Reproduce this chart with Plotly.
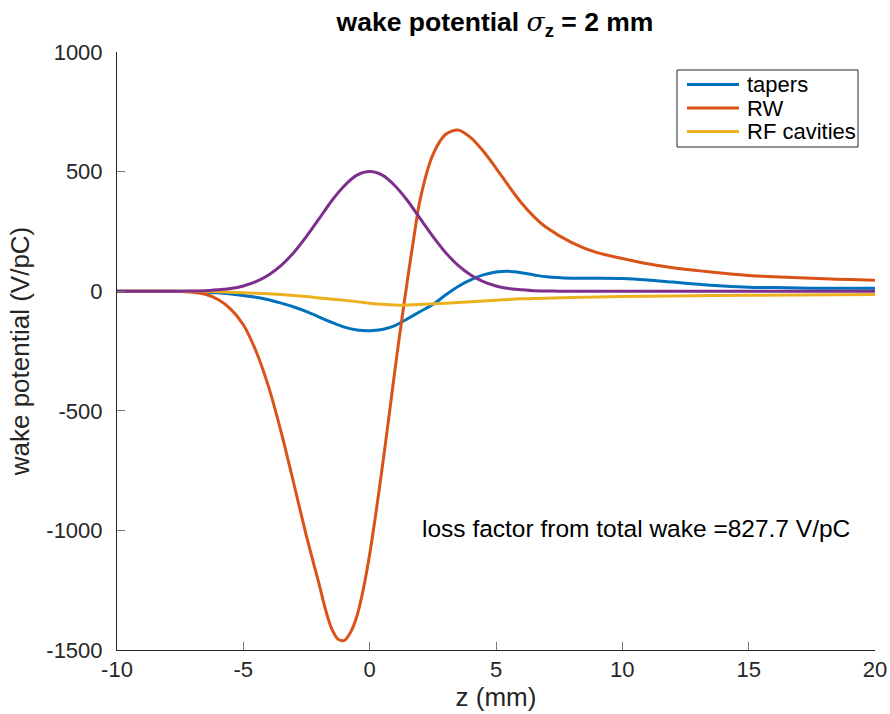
import plotly.graph_objects as go

# ---- data ----
z_tapers = [-10, -8, -7, -6.5, -6, -5.5, -5, -4.5, -4, -3.5, -3, -2.5, -2, -1.5, -1, -0.5, 0, 0.5, 1, 1.5,
            2, 2.5, 3, 3.5, 4, 4.5, 5, 5.5, 6, 6.5, 7, 8, 9, 10, 11, 12, 13, 14, 15, 16, 17, 18, 19, 20]
w_tapers = [0, 0, -2, -4, -7, -12, -18, -25, -36, -50, -66, -85, -108, -130, -150, -162, -165, -160, -144, -115,
            -85, -56, -16, 20, 47, 68, 80, 83, 77, 68, 60, 54, 54, 53, 47, 38, 29, 22, 17, 15, 13, 12, 12, 12]

z_rw = [-10, -8, -7.5, -7, -6.5, -6, -5.5, -5, -4.5, -4, -3.5, -3, -2.5, -2, -1.75, -1.5, -1.25, -1, -0.75,
        -0.5, -0.25, 0, 0.25, 0.5, 0.75, 1, 1.25, 1.5, 1.75, 2, 2.5, 3, 3.5, 4, 4.5, 5, 5.5, 6, 6.5, 7, 8, 9,
        10, 11, 12, 13, 14, 15, 16, 17, 18, 19, 20]
w_rw = [0, 0, -1, -4, -13, -35, -75, -140, -250, -400, -590, -805, -1025, -1225, -1330, -1412, -1455, -1460, -1425,
        -1357, -1245, -1100, -925, -735, -535, -330, -135, 50, 225, 385, 570, 655, 674, 642, 585, 515, 440, 370, 312,
        266, 203, 161, 137, 115, 98, 86, 75, 66, 60, 56, 52, 49, 46]

z_rf = [-10, -7, -6.5, -6, -5, -4, -3, -2.5, -2, -1, 0, 0.5, 1, 1.5, 2, 3, 4, 5, 6, 8, 10, 12, 15, 20]
w_rf = [0, 0, -1, -2, -6, -11, -18, -22, -28, -38, -50, -55, -58, -58, -56, -50, -44, -38, -32, -26, -22, -20, -17, -14]

z_bunch = [-10, -8, -7.5, -7, -6.5, -6, -5.5, -5, -4.5, -4, -3.5, -3, -2.5, -2, -1.5, -1, -0.5, 0,
           0.5, 1, 1.5, 2, 2.5, 3, 3.5, 4, 4.5, 5, 5.5, 6, 6.5, 7, 7.5, 8, 10, 15, 20]
w_bunch = [0, 0, 0, 1, 2, 6, 11, 22, 40, 68, 108, 162, 229, 303, 378, 441, 485, 500,
           485, 441, 378, 303, 229, 162, 108, 68, 40, 22, 11, 6, 2, 1, 0, 0, 0, 0, 0]

series_names = ["tapers", "RW", "RF cavities"]
colors = ["#0072BD", "#D95319", "#EDB120", "#7E2F8E"]

x_ticks = [-10, -5, 0, 5, 10, 15, 20]
y_ticks = [-1500, -1000, -500, 0, 500, 1000]

FONT = "Liberation Sans, Arial, Helvetica, sans-serif"
AX = "#262626"
W, H = 890, 714
ML, MR, MT, MB = 117, 15, 52, 64
PW, PH = W - ML - MR, H - MT - MB


def px2paper(px, py):
    return (px - ML) / PW, (H - MB - py) / PH


fig = go.Figure()
for z, w, name, c in zip([z_tapers, z_rw, z_rf], [w_tapers, w_rw, w_rf], series_names, colors[:3]):
    fig.add_trace(go.Scatter(x=z, y=w, mode="lines", name=name, showlegend=False,
                             line=dict(color=c, width=3, shape="spline", smoothing=0.8)))
fig.add_trace(go.Scatter(x=z_bunch, y=w_bunch, mode="lines", showlegend=False,
                         line=dict(color=colors[3], width=3, shape="spline", smoothing=0.8)))

tx_title, _ = px2paper(495, 0)
fig.update_layout(
    width=W, height=H,
    margin=dict(l=ML, r=MR, t=MT, b=MB, autoexpand=False),
    paper_bgcolor="white", plot_bgcolor="white",
    font=dict(family=FONT, size=22, color=AX),
    title=dict(
        text="<b>wake potential <span style='font-family:DejaVu Serif;font-weight:normal'><i>σ</i></span><sub>z</sub> = 2 mm</b>",
        x=tx_title, xref="paper", xanchor="center", y=1 - 22 / H, yref="container", yanchor="middle",
        font=dict(family=FONT, size=26.5, color="black")),
    showlegend=False,
)

fig.update_xaxes(range=[-10, 20], tickvals=x_ticks, ticktext=[str(v) for v in x_ticks],
                 showgrid=False, zeroline=False, showline=True, linecolor=AX, linewidth=1,
                 ticks="inside", ticklen=8, tickcolor="#777777", mirror=False, automargin=False,
                 tickfont=dict(size=22, color=AX),
                 title=dict(text="z (mm)", font=dict(size=26, color=AX), standoff=6))
fig.update_yaxes(range=[-1500, 1000], tickvals=y_ticks, ticktext=[str(v) for v in y_ticks],
                 showgrid=False, zeroline=False, showline=True, linecolor=AX, linewidth=1,
                 ticks="inside", ticklen=8, tickcolor="#777777", mirror=False, automargin=False,
                 tickfont=dict(size=22, color=AX), ticklabelstandoff=9,
                 title=dict(text="wake potential (V/pC)", font=dict(size=26, color=AX), standoff=9))

# ---- manual legend (matches the reference box) ----
x0, y0 = px2paper(677, 147)
x1, y1 = px2paper(858, 70)
fig.add_shape(type="rect", xref="paper", yref="paper", x0=x0, y0=y0, x1=x1, y1=y1,
              line=dict(color=AX, width=1), fillcolor="white", layer="above")
for i, (name, c) in enumerate(zip(series_names, colors[:3])):
    py = 84.5 + i * 23.5
    lx0, ly = px2paper(687, py)
    lx1, _ = px2paper(739, py)
    tx, _ = px2paper(745, py)
    fig.add_shape(type="line", xref="paper", yref="paper", x0=lx0, x1=lx1, y0=ly, y1=ly,
                  line=dict(color=c, width=3), layer="above")
    fig.add_annotation(x=tx, y=ly, xref="paper", yref="paper", xanchor="left", yanchor="middle",
                       text=name, showarrow=False, font=dict(family=FONT, size=22, color="black"))

fig.add_annotation(x=2.0, y=-990, xref="x", yref="y", xanchor="left", yanchor="middle",
                   text="loss factor from total wake =827.7 V/pC", showarrow=False,
                   font=dict(family=FONT, size=24.5, color="black"))

fig.write_html("out.html")
